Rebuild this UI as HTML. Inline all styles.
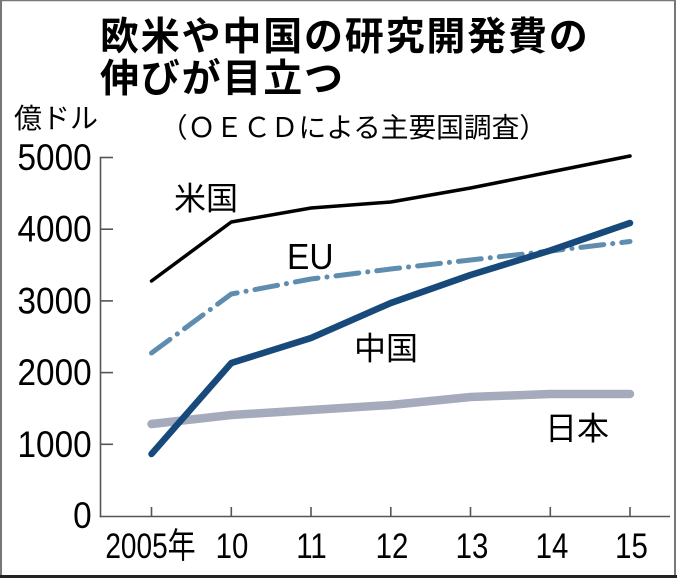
<!DOCTYPE html>
<html><head><meta charset="utf-8">
<style>
html,body{margin:0;padding:0;background:#fff;}
svg{display:block;}
.t{font-family:"Liberation Sans","Noto Sans CJK JP",sans-serif;}
.j{font-family:"Noto Sans CJK JP","Liberation Sans",sans-serif;}
</style></head>
<body>
<svg width="680" height="579" viewBox="0 0 680 579" xmlns="http://www.w3.org/2000/svg">
<rect x="0" y="0" width="680" height="579" fill="#fff"/>
<!-- frame -->
<line x1="1" y1="0" x2="1" y2="577" stroke="#777" stroke-width="2"/>
<line x1="0" y1="0.5" x2="676" y2="0.5" stroke="#777" stroke-width="1.5"/>
<line x1="675" y1="0" x2="675" y2="577" stroke="#777" stroke-width="2"/>
<line x1="0" y1="576.5" x2="677" y2="576.5" stroke="#222" stroke-width="3"/>

<!-- title -->
<text class="j" x="100" y="50" font-size="39" font-weight="700" letter-spacing="1.8" fill="#000">欧米や中国の研究開発費の</text>
<text class="j" x="100" y="92" font-size="39" font-weight="700" letter-spacing="1.8" fill="#000">伸びが目立つ</text>
<text class="j" x="14" y="128" font-size="28" fill="#000">億ドル</text>
<text class="j" x="160" y="137" font-size="27.5" fill="#000" textLength="387" lengthAdjust="spacingAndGlyphs">（ＯＥＣＤによる主要国調査）</text>

<!-- axes -->
<g stroke="#555" stroke-width="1.6" fill="none">
<line x1="100.5" y1="156.7" x2="100.5" y2="517.3"/>
<line x1="99.7" y1="516.5" x2="670" y2="516.5"/>
<line x1="100.5" y1="157.5" x2="113" y2="157.5"/>
<line x1="100.5" y1="229.2" x2="113" y2="229.2"/>
<line x1="100.5" y1="300.9" x2="113" y2="300.9"/>
<line x1="100.5" y1="372.6" x2="113" y2="372.6"/>
<line x1="100.5" y1="444.3" x2="113" y2="444.3"/>
<line x1="151.5" y1="507" x2="151.5" y2="516.5"/>
<line x1="231.3" y1="507" x2="231.3" y2="516.5"/>
<line x1="311" y1="507" x2="311" y2="516.5"/>
<line x1="390.8" y1="507" x2="390.8" y2="516.5"/>
<line x1="470.5" y1="507" x2="470.5" y2="516.5"/>
<line x1="550.3" y1="507" x2="550.3" y2="516.5"/>
<line x1="630" y1="507" x2="630" y2="516.5"/>
</g>

<!-- y labels -->
<g class="t" font-size="37" fill="#000" text-anchor="end">
<g transform="translate(91.6,170) scale(0.9,1)"><text x="0" y="0">5000</text></g>
<g transform="translate(91.6,241.7) scale(0.9,1)"><text x="0" y="0">4000</text></g>
<g transform="translate(91.6,313.4) scale(0.9,1)"><text x="0" y="0">3000</text></g>
<g transform="translate(91.6,385.1) scale(0.9,1)"><text x="0" y="0">2000</text></g>
<g transform="translate(91.6,456.8) scale(0.9,1)"><text x="0" y="0">1000</text></g>
<g transform="translate(91.6,528) scale(0.9,1)"><text x="0" y="0">0</text></g>
</g>

<!-- x labels -->
<g class="t" font-size="35" fill="#000" text-anchor="middle">
<g transform="translate(150.5,558) scale(0.8,1)"><text x="0" y="0">2005年</text></g>
<g transform="translate(232,558) scale(0.84,1)"><text x="0" y="0">10</text></g>
<g transform="translate(311.5,558) scale(0.84,1)"><text x="0" y="0">11</text></g>
<g transform="translate(392,558) scale(0.84,1)"><text x="0" y="0">12</text></g>
<g transform="translate(472,558) scale(0.84,1)"><text x="0" y="0">13</text></g>
<g transform="translate(552,558) scale(0.84,1)"><text x="0" y="0">14</text></g>
<g transform="translate(631.5,558) scale(0.84,1)"><text x="0" y="0">15</text></g>
</g>

<!-- series -->
<g fill="none" stroke-linejoin="round" stroke-linecap="round">
<polyline points="151.5,424 231.3,415 311,410 390.8,405 470.5,397 550.3,394 630,394" stroke="#a5aabd" stroke-width="8.5"/>
<polyline points="151.5,353 231.3,294 311,279 390.8,269 470.5,260 550.3,251 630,241.5" stroke="#5f8db0" stroke-width="5" stroke-dasharray="23 9 0.1 9"/>
<polyline points="151.5,281 231.3,222 311,208 390.8,202 470.5,188 550.3,172 630,156" stroke="#000" stroke-width="3.5"/>
<polyline points="151.5,454 231.3,363 311,338 390.8,303 470.5,275 550.3,250.5 630,223" stroke="#17497a" stroke-width="6.5"/>
</g>

<!-- series labels -->
<text class="j" x="174" y="209.5" font-size="32" fill="#000">米国</text>
<g transform="translate(287,269) scale(0.93,1)"><text class="t" x="0" y="0" font-size="36" fill="#000">EU</text></g>
<text class="j" x="354" y="359.5" font-size="32" fill="#000">中国</text>
<text class="j" x="545" y="439.5" font-size="32" fill="#000">日本</text>
</svg>
</body></html>
